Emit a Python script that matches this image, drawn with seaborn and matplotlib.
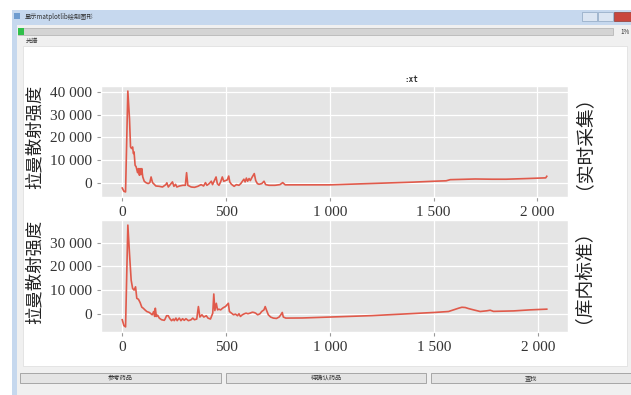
import matplotlib
matplotlib.use('Agg')
import pandas as pd
import matplotlib.pyplot as plt
from matplotlib.patches import Rectangle
from matplotlib.ticker import FuncFormatter, MultipleLocator
import seaborn as sns

# spectrum (实时采集)
top_x = [0, 8, 16, 27, 35, 40, 45, 50, 54, 57, 62, 67, 74, 78, 83, 86, 90, 94, 99, 106,
         114, 125, 133, 139, 146, 162, 178, 194, 210, 215, 222, 235, 242, 249, 257, 263,
         276, 292, 304, 310, 316, 332, 348, 364, 380, 392, 401, 408, 419, 429, 435, 447,
         452, 458, 466, 474, 482, 489, 498, 506, 513, 518, 526, 539, 550, 562, 571, 579,
         586, 592, 598, 604, 611, 617, 625, 636, 643, 651, 659, 672, 683, 691, 707, 736,
         760, 773, 785, 817, 865, 1000, 1200, 1400, 1500, 1560, 1580, 1620, 1700, 1780,
         1850, 1950, 2040, 2045]
top_y = [-2400, -3850, -4150, 40600, 28400, 15800, 15100, 15800, 12900, 13600, 7700, 7000,
         4400, 6200, 3250, 6200, 3550, 6200, 2500, 600,
         0, -450, 0, 2500, 0, -1500, -1650, -1950, -900, -100, -1950, -450, 300, -1650, -750, -1950,
         -1500, -1200, -1200, 4400, -1200, -1950, -2100, -1650, -900, -1500, 0, -1200, -450, 600, -900, 1500,
         2500, -450, -1200, 300, 2500, 600, 900, 1200, 2900, 300, -750, -1650, -900, -1200, -450, 600,
         1500, 300, 2000, 600, 1800, 900, 2300, 4000, 900, -450, -750, -450, 600, -900, -1200, -1200,
         -900, 0, -1000, -1000, -1000, -1000, -400, 200, 600, 800, 1300, 1400, 1600, 1500,
         1500, 1800, 2100, 2800]

# spectrum (库内标准)
bot_x = [0, 8, 16, 27, 35, 43, 50, 57, 64, 70, 78, 86, 94, 101, 109, 118, 130, 138, 144, 151,
         156, 159, 164, 170, 178, 189, 202, 206, 213, 221, 229, 237, 245, 250, 258, 264,
         274, 282, 290, 298, 306, 318, 331, 339, 347, 358, 366, 373, 383, 392, 404, 412,
         424, 435, 440, 445, 452, 458, 464, 473, 482, 489, 496, 503, 510, 515, 525, 535,
         544, 554, 561, 568, 577, 587, 595, 604, 614, 625, 633, 641, 651, 662, 670, 681,
         687, 694, 702, 713, 726, 741, 754, 762, 769, 774, 786, 866, 1000, 1200, 1400, 1500,
         1568, 1592, 1616, 1632, 1648, 1664, 1688, 1720, 1752, 1768, 1784, 1880, 1960, 2040]
bot_y = [-2650, -5150, -5700, 37600, 25400, 14150, 10650, 9950, 11350, 6450, 6050, 4650, 2700,
         2250, 1550, 850, 450, -100, -550, 850,
         -1250, 2250, -1250, -700, -1950, -2650, -2900, -2350, -950, -950, -2200, -3050, -2350, -3050, -1950, -3050,
         -1950, -3050, -2200, -2900, -2200, -3050, -2650, -1950, -2650, -2350, 2950, -1500, -550, -1500, -950, -1950,
         -2350, 150, 8300, 1250, 4350, 1550, 1850, 1550, 2250, 2650, 2950, 3650, 4350, 850, 150, -550,
         -250, -950, -100, -1250, -550, -100, 150, -100, 150, 550, 450, 150, -550, -100, 850, 1550,
         2950, 1250, -550, -1500, -1950, -2100, -1500, -550, 450, -1500, -1950, -1900, -1500, -900, 0, 450,
         850, 1550, 2250, 2650, 2550, 2100, 1550, 850, 1150, 1400, 900, 1100, 1550, 1850]

x_ticks = [0, 500, 1000, 1500, 2000]
y_label = '拉曼散射强度'
side_labels = ['（实时采集）', '（库内标准）']
button_names = ['参考药品', '待确认药品', '查找']

plt.style.use('ggplot')
plt.rcParams['font.family'] = ['Liberation Serif', 'Noto Sans CJK SC', 'DejaVu Sans']
cjk = ['Noto Sans CJK SC', 'DejaVu Sans']

W, H = 631, 395
fig = plt.figure(figsize=(W / 100, H / 100), dpi=100)
fig.patch.set_facecolor('white')

# window chrome drawn in pixel coords
bg = fig.add_axes([0, 0, 1, 1])
bg.set_xlim(0, W)
bg.set_ylim(H, 0)
bg.axis('off')
bg.add_patch(Rectangle((12, 10), W - 12, H - 10, fc='#c6d8ee', ec='none'))
bg.add_patch(Rectangle((17, 25), W - 17, H - 25, fc='#f0f0f0', ec='none'))
bg.add_patch(Rectangle((14, 13), 6, 6, fc='#6f9ccf', ec='none'))
bg.text(25, 17, '显示matplotlib绘制图形', fontsize=4.5, family=cjk, color='#303030', va='center')
bg.add_patch(Rectangle((582, 12), 15, 9, fc='#dbe5f2', ec='#8fa6c2', lw=0.5))
bg.add_patch(Rectangle((598, 12), 15, 9, fc='#dbe5f2', ec='#8fa6c2', lw=0.5))
bg.add_patch(Rectangle((614, 12), 17, 9, fc='#c9463d', ec='#8f3a33', lw=0.5))
bg.add_patch(Rectangle((18, 28), 595, 7, fc='#d4d4d4', ec='#b0b0b0', lw=0.5))
bg.add_patch(Rectangle((18, 28), 6, 7, fc='#2fbf4a', ec='none'))
bg.text(620, 31.5, '1%', fontsize=4.5, family=cjk, color='#303030', va='center')
bg.text(26, 41, '光谱', fontsize=4.5, family=cjk, color='#303030', va='center')
bg.add_patch(Rectangle((23, 46), 604, 320, fc='white', ec='#dcdcdc', lw=0.5))
for (x0, x1), name in zip([(20, 221), (226, 426), (431, 631)], button_names):
    bg.add_patch(Rectangle((x0, 373), x1 - x0, 10, fc='#e4e4e4', ec='#9c9c9c', lw=0.6))
    bg.text((x0 + x1) / 2, 378, name, fontsize=4.5, family=cjk, color='#303030',
            ha='center', va='center')
bg.text(411, 79, ':xt', fontsize=5.5, family='DejaVu Sans Mono', weight='bold',
        color='#303030', ha='center', va='center')

def fmt(v, pos):
    return '{:,.0f}'.format(v).replace(',', ' ')

line_color = '#E05A4B'
axes_boxes = [[101 / W, 1 - 197 / H, 467 / W, 111 / H],
              [101 / W, 1 - 332 / H, 467 / W, 112 / H]]
series = [(top_x, top_y), (bot_x, bot_y)]

for box, (xs, ys), side in zip(axes_boxes, series, side_labels):
    ax = fig.add_axes(box)
    df = pd.DataFrame({'x': xs, 'y': ys})
    sns.lineplot(data=df, x='x', y='y', ax=ax, color=line_color, linewidth=1.2,
                 estimator=None, sort=False)
    ax.set_facecolor('#E5E5E5')
    ax.grid(True, color='white', linewidth=0.9)
    ax.set_xticks(x_ticks)
    ax.yaxis.set_major_locator(MultipleLocator(10000))
    ax.xaxis.set_major_formatter(FuncFormatter(fmt))
    ax.yaxis.set_major_formatter(FuncFormatter(fmt))
    ax.tick_params(labelsize=11, colors='#999999', labelcolor='#333333', length=3)
    ax.set_xlabel('')
    ax.set_ylabel(y_label, fontsize=12.5, family=cjk, color='#222222')
    ax.yaxis.set_label_coords(-0.122, 0.54)
    ax.text(1.012, 0.58, side, transform=ax.transAxes, rotation=90, fontsize=13.5,
            family=cjk, color='#222222', ha='center', va='center')

fig.savefig('out.png', dpi=100)
